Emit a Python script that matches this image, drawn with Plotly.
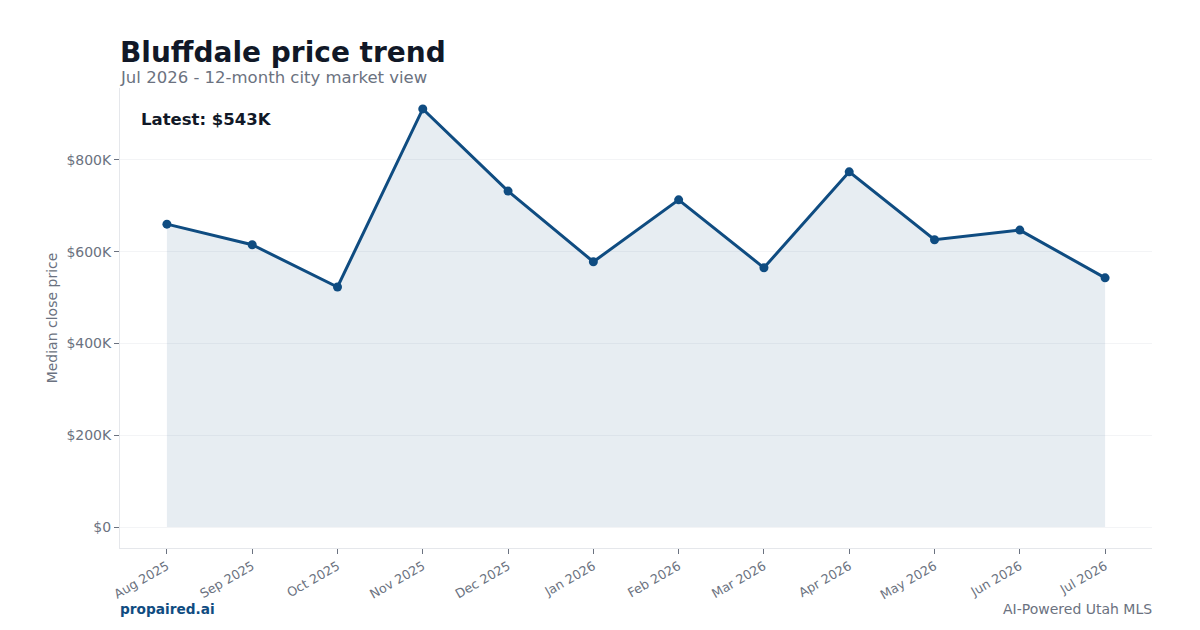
import plotly.graph_objects as go

months = ["Aug 2025", "Sep 2025", "Oct 2025", "Nov 2025", "Dec 2025", "Jan 2026",
          "Feb 2026", "Mar 2026", "Apr 2026", "May 2026", "Jun 2026", "Jul 2026"]
median_price = [660000, 615000, 523000, 911000, 732000, 578000,
                713000, 565000, 774000, 626000, 647000, 543000]
y_tick_vals = [0, 200000, 400000, 600000, 800000]
y_tick_text = ["$0", "$200K", "$400K", "$600K", "$800K"]

FONT = "DejaVu Sans"
LINE = "#0f4c81"
GREY = "#6b7280"
DARK = "#111827"

fig = go.Figure()
fig.add_trace(go.Scatter(
    x=list(range(len(months))), y=median_price,
    mode="lines+markers",
    line=dict(color=LINE, width=3),
    marker=dict(color=LINE, size=9),
    fill="tozeroy", fillcolor="rgba(15,76,129,0.10)",
    hoverinfo="skip",
))

fig.update_layout(
    width=1200, height=630,
    margin=dict(l=120, r=48, t=88, b=82),
    paper_bgcolor="white", plot_bgcolor="white",
    font=dict(family=FONT, color=GREY, size=13),
    showlegend=False,
    xaxis=dict(
        tickmode="array", tickvals=list(range(len(months))), ticktext=months,
        range=[-0.55, len(months) - 0.45],
        tickangle=-30, tickfont=dict(size=12.7, color=GREY),
        ticks="outside", ticklen=5, tickcolor="#6b7280",
        showline=True, linecolor="#e5e7eb", linewidth=1,
        showgrid=False, zeroline=False,
    ),
    yaxis=dict(
        tickmode="array", tickvals=y_tick_vals, ticktext=y_tick_text,
        range=[-45600, 956600],
        tickfont=dict(size=14, color=GREY),
        ticks="outside", ticklen=5, tickcolor="#6b7280",
        showline=True, linecolor="#e5e7eb", linewidth=1,
        showgrid=True, gridcolor="#f3f4f6", zeroline=False,
        title=dict(text="Median close price", font=dict(size=14, color=GREY), standoff=5),
    ),
    annotations=[
        dict(text="<b>Bluffdale price trend</b>", xref="paper", yref="paper",
             x=0, y=1, xanchor="left", yanchor="middle", xshift=-2, yshift=(88 - 52),
             showarrow=False, font=dict(size=28, color=DARK, family=FONT)),
        dict(text="Jul 2026 - 12-month city market view", xref="paper", yref="paper",
             x=0, y=1, xanchor="left", yanchor="middle", xshift=-2, yshift=(88 - 77),
             showarrow=False, font=dict(size=16.5, color=GREY, family=FONT)),
        dict(text="<b>Latest: $543K</b>", xref="paper", yref="paper",
             x=0, y=1, xanchor="left", yanchor="middle", xshift=19, yshift=(88 - 119),
             showarrow=False, font=dict(size=16.5, color=DARK, family=FONT)),
        dict(text="<b>propaired.ai</b>", xref="paper", yref="paper",
             x=0, y=0, xanchor="left", yanchor="middle", xshift=-2, yshift=-(609 - 548),
             showarrow=False, font=dict(size=13.7, color=LINE, family=FONT)),
        dict(text="AI-Powered Utah MLS", xref="paper", yref="paper",
             x=1, y=0, xanchor="right", yanchor="middle", xshift=2, yshift=-(609 - 548),
             showarrow=False, font=dict(size=14, color=GREY, family=FONT)),
    ],
)

fig.write_html("out.html")
